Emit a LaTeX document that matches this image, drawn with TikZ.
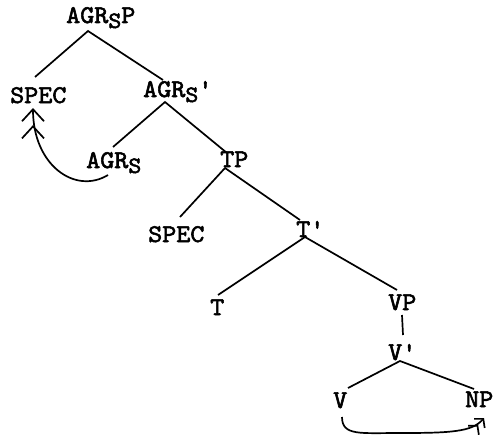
\documentclass[tikz,border=0pt]{standalone}
\usepackage{fontspec}
\newfontfamily\twb{lmmono10-regular.otf}[FakeBold=2.2,FakeStretch=1.05]
\usetikzlibrary{arrows.meta,calc}
\newcommand{\subS}{\raisebox{-5pt}{\fontsize{23.5}{23.5}\selectfont S}}
\begin{document}
\begin{tikzpicture}[x=1pt,y=-1pt,
  lbl/.style={font=\twb\fontsize{25.5}{30}\selectfont, inner sep=0pt, anchor=base west},
  edge/.style={line width=1.7pt},
  mvbig/.style={line width=1.7pt, -{Straight Barb[length=12pt,width=22pt,sep=3pt]Straight Barb[length=12pt,width=22pt]}},
  mvsmall/.style={line width=1.7pt, -{Straight Barb[length=6pt,width=14pt,sep=1pt]Straight Barb[length=6pt,width=14pt]}}]
\useasboundingbox (0,0) rectangle (497,436);
\node[lbl] (AGRsP) at (66,23) {AGR\subS P};
\node[lbl] (SPEC1) at (10,103) {SPEC};
\node[lbl] (AGRsbar) at (143,97) {AGR\subS\symbol{39}};
\node[lbl] (AGRs) at (86,168) {AGR\subS};
\node[lbl] (TP) at (220,167) {TP};
\node[lbl] (SPEC2) at (148,242) {SPEC};
\node[lbl] (Tbar) at (296,237) {T\symbol{39}};
\node[lbl] (T) at (210,315) {T};
\node[lbl] (VP) at (388,310) {VP};
\node[lbl] (Vbar) at (388,360) {V\symbol{39}};
\node[lbl] (V) at (333,408) {V};
\node[lbl] (NP) at (465,407) {NP};
% tree branches
\draw[edge] ($(SPEC1.base west)+(25,-26)$) -- ($(AGRsP.base west)+(22,8)$) -- ($(AGRsbar.base west)+(20,-17)$);
\draw[edge] ($(AGRs.base west)+(27,-21)$) -- ($(AGRsbar.base west)+(22,5)$) -- ($(TP.base west)+(7,-14)$);
\draw[edge] ($(SPEC2.base west)+(32,-25)$) -- ($(TP.base west)+(5,1)$) -- ($(Tbar.base west)+(4,-17)$);
\draw[edge] ($(T.base west)+(8,-20)$) -- ($(Tbar.base west)+(9,0)$) -- ($(VP.base west)+(9,-20)$);
\draw[edge] ($(VP.base west)+(14,5)$) -- ($(Vbar.base west)+(15,-25)$);
\draw[edge] ($(V.base west)+(15,-20)$) -- ($(Vbar.base west)+(12,1)$) -- ($(NP.base west)+(9,-18)$);
% movement arrows
\draw[mvbig] ($(AGRs.base west)+(22,7)$) .. controls (75,195) and (33,165) .. ($(SPEC1.base west)+(23,5)$);
\draw[mvsmall] ($(V.base west)+(9,9)$) .. controls (342,436) and (360,433) .. (400,433) .. controls (450,433) and (472,432) .. ($(NP.base west)+(19,11)$);
\end{tikzpicture}
\end{document}
